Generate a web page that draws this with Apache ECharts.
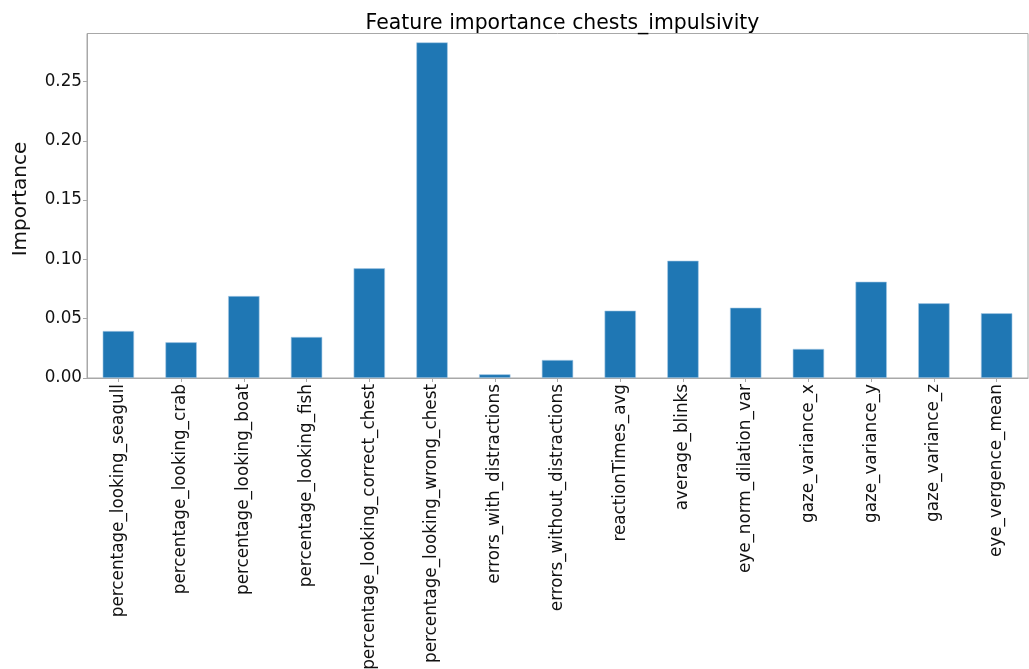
<!DOCTYPE html>
<html>
<head>
<meta charset="utf-8">
<script src="https://cdn.jsdelivr.net/npm/echarts@6/dist/echarts.min.js"></script>
<style>
  html, body { margin: 0; padding: 0; background: #fff; }
  #chart { width: 1029px; height: 669px; }
</style>
</head>
<body>
<div id="chart"></div>
<script>
// Feature names (x-axis categories)
const features = [
  'percentage_looking_seagull',
  'percentage_looking_crab',
  'percentage_looking_boat',
  'percentage_looking_fish',
  'percentage_looking_correct_chest',
  'percentage_looking_wrong_chest',
  'errors_with_distractions',
  'errors_without_distractions',
  'reactionTimes_avg',
  'average_blinks',
  'eye_norm_dilation_var',
  'gaze_variance_x',
  'gaze_variance_y',
  'gaze_variance_z',
  'eye_vergence_mean'
];

// Importance per feature
const importance = [
  0.0396, 0.0301, 0.0691, 0.0346, 0.0925, 0.2830, 0.0031, 0.0152,
  0.0568, 0.0989, 0.0593, 0.0245, 0.0812, 0.0630, 0.0546
];

// Y-axis range and tick step
const yMin = 0;
const yMax = 0.2905;
const yStep = 0.05;

const font = 'DejaVu Sans';
const frameColor = '#a8a8a8';
const textColor = '#111111';

const chart = echarts.init(document.getElementById('chart'), null, { renderer: 'canvas' });

chart.setOption({
  animation: false,
  backgroundColor: '#ffffff',
  title: {
    text: 'Feature importance chests_impulsivity',
    left: 557.5,
    textAlign: 'center',
    top: 9,
    textStyle: { fontFamily: font, fontSize: 20.4, fontWeight: 'normal', color: '#000' }
  },
  // y-axis title, drawn rotated beside the tick labels
  graphic: [{
    type: 'text',
    x: 21,
    y: 199,
    rotation: Math.PI / 2,
    style: {
      text: 'Importance',
      fontFamily: font, fontSize: 20, fill: textColor,
      align: 'center', verticalAlign: 'middle'
    }
  }],
  grid: {
    left: 87, right: 1, top: 33.5, bottom: 291,
    containLabel: false,
    outerBoundsMode: 'none',
    show: true, borderColor: frameColor, borderWidth: 1, backgroundColor: 'transparent'
  },
  xAxis: {
    type: 'category',
    data: features,
    boundaryGap: true,
    axisLine: { show: true, lineStyle: { color: frameColor, width: 1 } },
    axisTick: { show: true, alignWithLabel: true, length: 4, lineStyle: { color: frameColor } },
    axisLabel: {
      rotate: 90, interval: 0, margin: 6,
      fontFamily: font, fontSize: 16.8, color: textColor
    },
    splitLine: { show: false }
  },
  yAxis: {
    type: 'value',
    min: yMin, max: yMax, interval: yStep,
    axisLine: { show: true, lineStyle: { color: frameColor, width: 1 } },
    axisTick: { show: true, length: 4, lineStyle: { color: frameColor } },
    axisLabel: {
      margin: 5, showMaxLabel: false,
      fontFamily: font, fontSize: 16.8, color: textColor,
      formatter: v => v.toFixed(2)
    },
    splitLine: { show: false }
  },
  series: [{
    type: 'bar',
    data: importance,
    barWidth: '50%',
    itemStyle: { color: '#1f77b4', borderColor: '#a9cbe6', borderWidth: 0.6 }
  }]
});
</script>
</body>
</html>
